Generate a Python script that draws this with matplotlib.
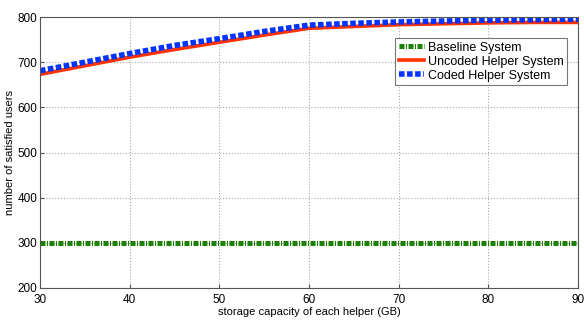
import matplotlib
matplotlib.use("Agg")
import matplotlib.pyplot as plt

plt.rcParams['font.family'] = ['Liberation Sans', 'DejaVu Sans']

storage = [30, 35, 40, 45, 50, 55, 60, 65, 70, 75, 80, 85, 90]
baseline = [300] * len(storage)
uncoded = [673, 692, 711, 728, 744, 760, 775, 779, 783, 785, 787, 788, 788]
coded = [681, 700, 719, 737, 752, 768, 782, 786, 789, 791, 793, 794, 795]

fig = plt.figure(figsize=(5.84, 3.2), dpi=100)
ax = fig.add_axes([40/584, 1-288/320, (578-40)/584, (288-17)/320])

ax.plot(storage, baseline, color=(0.1, 0.5, 0.0), lw=3.6, linestyle=(0, (1, 0.3, 0.2, 0.3)),
        label='Baseline System')
ax.plot(storage, uncoded, color=(1, 0.2, 0), lw=2.6, label='Uncoded Helper System')
ax.plot(storage, coded, color=(0, 0.2, 1), lw=4.0, linestyle=(0, (1, 0.45)),
        label='Coded Helper System')

ax.set_xlim(30, 90)
ax.set_ylim(200, 800)
ax.set_xticks(range(30, 91, 10))
ax.set_yticks(range(200, 801, 100))
ax.grid(True, linestyle=':', color='#aaaaaa', lw=0.8)
for s in ax.spines.values():
    s.set_color('#555555')
ax.tick_params(labelsize=8.5, direction='in', length=3, color='#555555')
ax.tick_params(axis='y', pad=2)
ax.tick_params(axis='x', pad=4)
ax.set_xlabel('storage capacity of each helper (GB)', fontsize=8, labelpad=1)
ax.set_ylabel('number of satisfied users', fontsize=8, labelpad=2)

leg = ax.legend(loc='upper right', bbox_to_anchor=((567-40)/538, (288-38)/271), fontsize=9,
                frameon=True, fancybox=False, edgecolor='#555555', handlelength=2,
                handletextpad=0.3, borderpad=0.3, labelspacing=0.15, borderaxespad=0.0)
leg.get_frame().set_linewidth(0.8)

fig.savefig('out.png', dpi=100)
